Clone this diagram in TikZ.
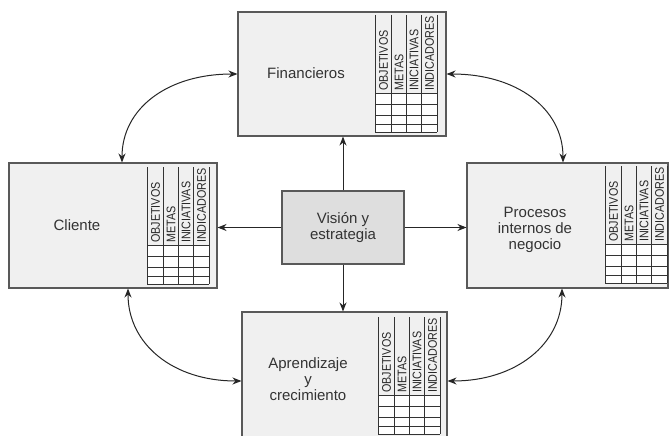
\documentclass[tikz,border=0pt]{standalone}
\usepackage{fontspec}
\setmainfont{Liberation Sans}
\usepackage{graphicx}
\usetikzlibrary{arrows.meta,calc}
\newcommand{\hd}[1]{\scalebox{0.86}[1]{#1}}
\tikzset{
  box/.style={draw=black!65, line width=1.1pt, fill=gray!12, inner sep=0pt},
  visbox/.style={box, fill=gray!26},
  lbl/.style={align=center, text=black!80, font=\fontsize{15}{16}\selectfont, inner sep=0pt},
  hdr/.style={rotate=90, anchor=west, inner sep=0pt, text=black!85, font=\fontsize{12.5}{12.5}\selectfont},
  tline/.style={line width=0.9pt, draw=black!80},
  arr/.style={line width=1pt, draw=black!85, -{Stealth[length=9pt,width=7pt]}},
  arr2/.style={line width=1pt, draw=black!85, {Stealth[length=9pt,width=7pt]}-{Stealth[length=9pt,width=7pt]}},
  tabla/.pic={
    \fill[white] (0,78) rectangle (62,117);
    \foreach \x in {0,16,31,46,62} \draw[tline] (\x,0) -- (\x,117);
    \foreach \y in {78,89,100,109,117} \draw[tline] (0,\y) -- (62,\y);
    \node[hdr] (o) at (8.5,76) {\hd{OBJETIVOS}};
    \node[hdr] (m) at (24,76) {\hd{METAS}};
    \node[hdr] (i) at (39,76) {\hd{INICIATIVAS}};
    \node[hdr] (d) at (54.5,76) {\hd{INDICADORES}};
  }
}
\begin{document}
\begin{tikzpicture}[x=1pt,y=-1pt]
\useasboundingbox (0,0) rectangle (670,436);
% boxes
\node[box, minimum width=208pt, minimum height=124pt] (fin) at (342,74) {};
\node[box, minimum width=208pt, minimum height=125pt] (cli) at (113,225.5) {};
\node[box, minimum width=201pt, minimum height=125pt] (proc) at (567.5,225.5) {};
\node[box, minimum width=205pt, minimum height=126pt] (apr) at (344.5,375) {};
\node[visbox, minimum width=122pt, minimum height=73pt] (vis) at (343,227.5) {};
% labels
\node[lbl] (tfin) at (306,73) {Financieros};
\node[lbl] (tcli) at (77,225) {Cliente};
\node[lbl] (tproc) at (535,230) {Procesos\\internos de\\negocio};
\node[lbl] (tapr) at (308,379) {Aprendizaje\\y\\crecimiento};
\node[lbl] (tvis) at (343,227.5) {Visión y\\estrategia};
% tables
\pic (tf) at (375,15) {tabla};
\pic (tc) at (147,167) {tabla};
\pic (tp) at (605,166) {tabla};
\pic (ta) at (378,317) {tabla};
% straight arrows
\draw[arr] (vis.north) -- (vis.north |- fin.south);
\draw[arr] (vis.south) -- (vis.south |- apr.north);
\draw[arr] (vis.west) -- (vis.west -| cli.east);
\draw[arr] (vis.east) -- (vis.east -| proc.west);
% curved arrows
\coordinate (c1b) at ([xshift=9pt]cli.north);
\coordinate (c2b) at ([xshift=-4.5pt]proc.north);
\coordinate (c3a) at ([xshift=15pt]cli.south);
\coordinate (c3b) at ([yshift=-6pt]apr.west);
\coordinate (c4a) at ([xshift=-5.5pt]proc.south);
\coordinate (c4b) at ([yshift=-6pt]apr.east);
\draw[arr2] (fin.west) .. controls ($(fin.west)+(-70,0)$) and ($(c1b)+(0,-54)$) .. (c1b);
\draw[arr2] (fin.east) .. controls ($(fin.east)+(70,0)$) and ($(c2b)+(0,-54)$) .. (c2b);
\draw[arr2] (c3a) .. controls ($(c3a)+(0,56)$) and ($(c3b)+(-68,0)$) .. (c3b);
\draw[arr2] (c4a) .. controls ($(c4a)+(0,56)$) and ($(c4b)+(68,0)$) .. (c4b);
\end{tikzpicture}
\end{document}
